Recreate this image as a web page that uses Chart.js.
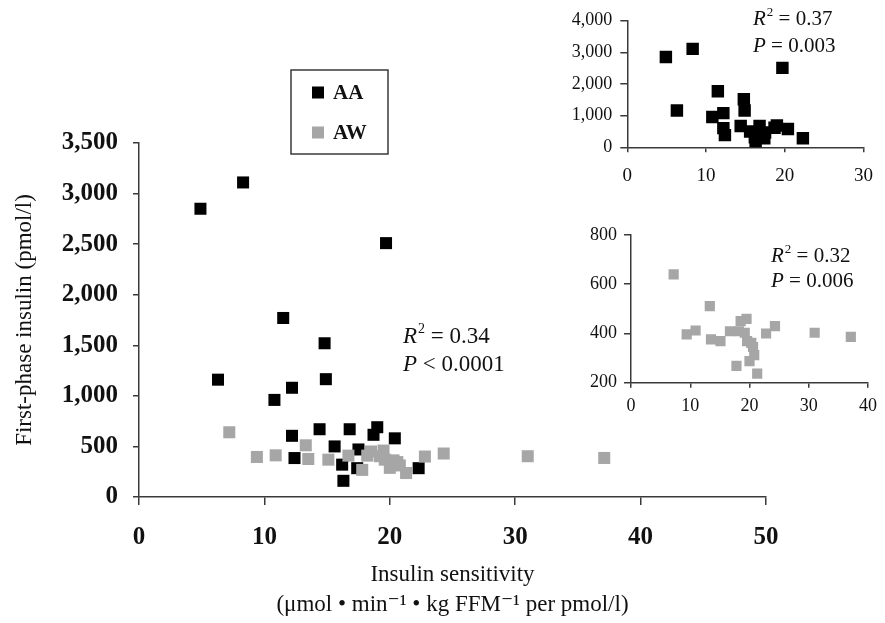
<!DOCTYPE html>
<html>
<head>
<meta charset="utf-8">
<script src="https://cdn.jsdelivr.net/npm/chart.js@4.4.1/dist/chart.umd.min.js"></script>
<style>
  body { margin: 0; background: #fff; }
  #wrap { position: relative; width: 885px; height: 623px; }
  canvas { position: absolute; }
</style>
</head>
<body>
<div id="wrap">
  <canvas id="main" width="885" height="623" style="left:0;top:0"></canvas>
  <canvas id="insetAA" width="325" height="200" style="left:560px;top:0"></canvas>
  <canvas id="insetAW" width="325" height="210" style="left:560px;top:215px"></canvas>
</div>
<script>
// data
const seriesNames = ["AA", "AW"];
const aaX = [8.3, 4.9, 19.7, 11.5, 14.8, 6.3, 14.9, 12.2, 10.8, 14.4, 16.8, 19.0, 18.7, 12.2, 20.4, 15.6, 17.5, 12.4, 16.2, 17.4, 22.3, 16.3];
const aaY = [3110, 2850, 2510, 1770, 1520, 1160, 1165, 1080, 960, 670, 670, 690, 615, 605, 580, 500, 470, 385, 320, 285, 285, 160];
const awX = [7.2, 9.4, 10.9, 13.3, 13.5, 15.1, 16.7, 18.2, 17.8, 18.5, 19.5, 19.2, 19.6, 20.3, 20.6, 20.0, 20.8, 21.3, 22.8, 24.3, 31.0, 37.1];
const awY = [640, 396, 412, 511, 376, 369, 409, 409, 268, 450, 459, 403, 369, 362, 345, 288, 312, 237, 400, 430, 403, 386];
const mainXTicks = [0, 10, 20, 30, 40, 50];
const mainYTicks = [0, 500, 1000, 1500, 2000, 2500, 3000, 3500];

const serif = "'Liberation Serif', 'DejaVu Serif', 'Times New Roman', serif";
const black = "#000000";
const grey = "#a6a6a6";
const axisCol = "#3a3a3a";

function pts(xs, ys) {
  return xs.map((x, i) => ({ x: x, y: ys[i] }));
}

// text with italic letter + superscript
function richLine(ctx, x, y, parts) {
  ctx.textBaseline = "alphabetic";
  ctx.textAlign = "left";
  ctx.fillStyle = "#111";
  parts.forEach(p => {
    ctx.font = p.font;
    ctx.fillText(p.t, x, y - (p.up || 0));
    x += ctx.measureText(p.t).width + (p.gap || 0);
  });
}

function statsPlugin(x, y1, y2, size, r2, pText) {
  return {
    id: "stats",
    afterDraw(chart) {
      const ctx = chart.ctx;
      ctx.save();
      const reg = size + "px " + serif;
      const it = "italic " + size + "px " + serif;
      const sup = Math.round(size * 0.62) + "px " + serif;
      richLine(ctx, x, y1, [
        { t: "R", font: it, gap: 1 },
        { t: "2", font: sup, up: size * 0.42 },
        { t: " = " + r2, font: reg }
      ]);
      richLine(ctx, x, y2, [
        { t: "P", font: it },
        { t: pText, font: reg }
      ]);
      ctx.restore();
    }
  };
}

const legendBox = {
  id: "legendBox",
  afterDraw(chart) {
    const ctx = chart.ctx;
    ctx.save();
    ctx.strokeStyle = axisCol;
    ctx.lineWidth = 1.5;
    ctx.strokeRect(291, 70, 97, 84);
    const rows = [92.5, 132.5];
    chart.data.datasets.forEach((ds, i) => {
      ctx.fillStyle = ds.backgroundColor;
      ctx.fillRect(312, rows[i] - 6, 12, 12);
      ctx.fillStyle = "#111";
      ctx.font = "bold 21px " + serif;
      ctx.textBaseline = "middle";
      ctx.fillText(ds.label, 333, rows[i] + 1);
    });
    ctx.restore();
  }
};

function axisStyle(tickLen) {
  return {
    grid: { display: true, drawOnChartArea: false, drawTicks: true, tickLength: tickLen, color: axisCol, lineWidth: 1.5 },
    border: { display: true, color: axisCol, width: 1.5 }
  };
}

const fmt = v => v.toLocaleString("en-US");

// main chart
new Chart(document.getElementById("main"), {
  type: "scatter",
  data: {
    datasets: [
      { label: seriesNames[0], data: pts(aaX, aaY), backgroundColor: black, pointStyle: "rect", pointRadius: 8.5, borderWidth: 0, order: 1 },
      { label: seriesNames[1], data: pts(awX, awY), backgroundColor: grey, pointStyle: "rect", pointRadius: 8.5, borderWidth: 0, order: 0 }
    ]
  },
  options: {
    responsive: false,
    animation: false,
    layout: { padding: { top: 143, right: 119, left: 0, bottom: 0 } },
    plugins: { legend: { display: false }, tooltip: { enabled: false } },
    scales: {
      x: Object.assign({
        type: "linear", min: 0, max: 50,
        afterBuildTicks: s => { s.ticks = mainXTicks.map(v => ({ value: v })); },
        afterFit: s => { s.height = 126; },
        ticks: { color: "#111", font: { family: serif, size: 25, weight: "bold" }, padding: 18 },
        title: {
          display: true,
          text: ["Insulin sensitivity", "(\u03bcmol \u2022 min\u207b\u00b9 \u2022 kg FFM\u207b\u00b9 per pmol/l)"],
          color: "#111",
          font: { family: serif, size: 23, lineHeight: 1.3 },
          padding: { top: 0, bottom: 3 }
        }
      }, axisStyle(8)),
      y: Object.assign({
        type: "linear", min: 0, max: 3500,
        afterBuildTicks: s => { s.ticks = mainYTicks.map(v => ({ value: v })); },
        afterFit: s => { s.width = 139; },
        ticks: { color: "#111", font: { family: serif, size: 25, weight: "bold" }, padding: 15, callback: fmt },
        title: {
          display: true,
          text: "First-phase insulin (pmol/l)",
          color: "#111",
          font: { family: serif, size: 23, lineHeight: 1.2 },
          padding: { top: 11, bottom: 0 }
        }
      }, axisStyle(6))
    }
  },
  plugins: [legendBox, statsPlugin(403, 343, 371, 23, "0.34", " < 0.0001")]
});

// inset AA
new Chart(document.getElementById("insetAA"), {
  type: "scatter",
  data: {
    datasets: [
      { label: seriesNames[0], data: pts(aaX, aaY), backgroundColor: black, pointStyle: "rect", pointRadius: 8.8, borderWidth: 0 }
    ]
  },
  options: {
    responsive: false,
    animation: false,
    layout: { padding: { top: 20.7, right: 12.3, left: 0, bottom: 0 } },
    plugins: { legend: { display: false }, tooltip: { enabled: false } },
    scales: {
      x: Object.assign({
        type: "linear", min: 0, max: 30,
        ticks: { stepSize: 10, color: "#111", font: { family: serif, size: 19 }, padding: 12 },
        afterFit: s => { s.height = 52.7; }
      }, axisStyle(5)),
      y: Object.assign({
        type: "linear", min: 0, max: 4000,
        ticks: { stepSize: 1000, color: "#111", font: { family: serif, size: 18 }, padding: 8, callback: fmt },
        afterFit: s => { s.width = 67.3; }
      }, axisStyle(7))
    }
  },
  plugins: [statsPlugin(193, 25, 52, 21, "0.37", " = 0.003")]
});

// inset AW
new Chart(document.getElementById("insetAW"), {
  type: "scatter",
  data: {
    datasets: [
      { label: seriesNames[1], data: pts(awX, awY), backgroundColor: grey, pointStyle: "rect", pointRadius: 7.2, borderWidth: 0 }
    ]
  },
  options: {
    responsive: false,
    animation: false,
    layout: { padding: { top: 20, right: 9, left: 0, bottom: 0 } },
    plugins: { legend: { display: false }, tooltip: { enabled: false } },
    scales: {
      x: Object.assign({
        type: "linear", min: 0, max: 40,
        ticks: { stepSize: 10, color: "#111", font: { family: serif, size: 18 }, padding: 8 },
        afterFit: s => { s.height = 42.3; }
      }, axisStyle(5)),
      y: Object.assign({
        type: "linear", min: 200, max: 800,
        ticks: { stepSize: 200, color: "#111", font: { family: serif, size: 18 }, padding: 7 },
        afterFit: s => { s.width = 71; }
      }, axisStyle(7))
    }
  },
  plugins: [statsPlugin(211, 47, 72, 21, "0.32", " = 0.006")]
});
</script>
</body>
</html>
